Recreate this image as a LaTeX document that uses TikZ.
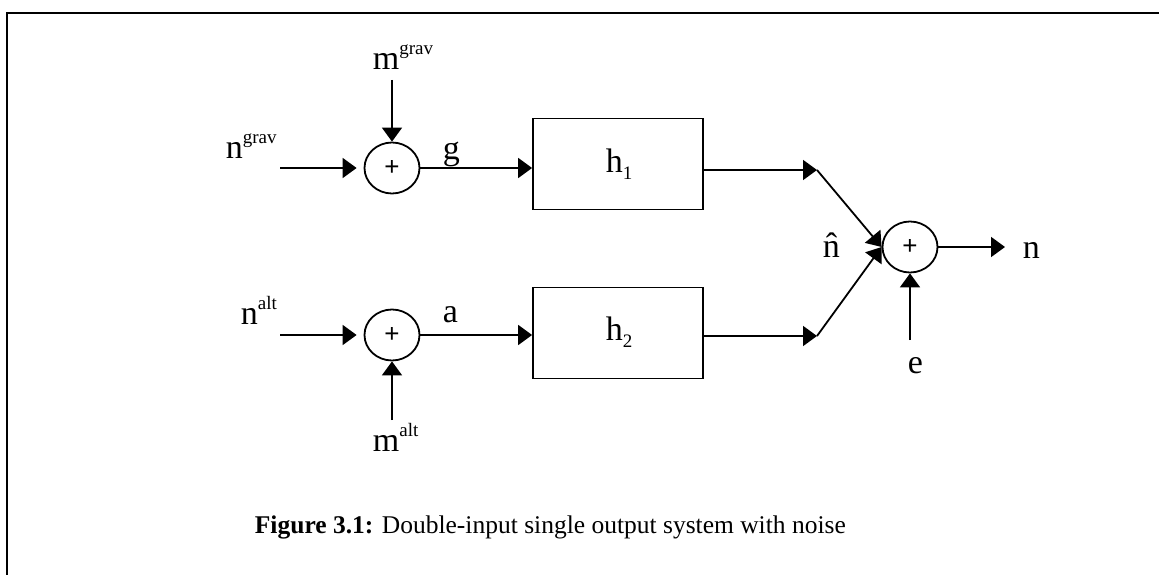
\documentclass[tikz,border=0pt]{standalone}
\usepackage{fontspec}
\setmainfont{Liberation Serif}
\setsansfont{Liberation Sans}
\usetikzlibrary{arrows.meta,shapes.geometric,positioning,calc}
\newcommand{\supr}[1]{\raisebox{15pt}{\fontsize{19}{21}\selectfont #1}}
\newcommand{\subr}[1]{\raisebox{-7pt}{\fontsize{19}{21}\selectfont #1}}

\begin{document}
\begin{tikzpicture}[x=1pt,y=-1pt,line width=1.8pt,>={Triangle[length=14pt,width=20pt]},
sum/.style={draw,ellipse,minimum width=55pt,minimum height=51pt,inner sep=0pt,font=\sffamily\fontsize{26}{30}\selectfont},
block/.style={draw,rectangle,minimum width=170pt,minimum height=91pt,inner sep=0pt},
lbl/.style={inner sep=0pt,anchor=base west,font=\fontsize{34}{40}\selectfont},
gap/.style={shorten >=7pt}]
\useasboundingbox (0,0) rectangle (1159,575);
\draw[line width=2.7pt] (7,590) -- (7,13) -- (1170,13);
% adders and blocks
\node[sum] (s1) at (392,168) {+};
\node[sum] (s2) at (392,335) {+};
\node[sum] (s3) at (910,247) {+};
\node[block] (h1) at (618,164) {};
\node[block] (h2) at (618,333) {};
% labels
\node[lbl] (ngrav) at (225,158) {n\supr{grav}};
\node[lbl] (mgrav) at (372,70) {m\supr{grav}};
\node[lbl] (g) at (442,159) {g};
\node[lbl] (h1txt) at (605,172) {h\subr{1}};
\node[lbl] (nalt) at (240,324) {n\supr{alt}};
\node[lbl] (a) at (442,322) {a};
\node[lbl] (malt) at (372,451) {m\supr{alt}};
\node[lbl] (h2txt) at (605,340) {h\subr{2}};
\node[lbl] (nhat) at (822,257) {\^{n}};
\node[lbl] (nout) at (1022,258) {n};
\node[lbl] (e) at (907,373) {e};
\node[inner sep=0pt,anchor=base west,font=\fontsize{25.5}{30}\selectfont] (cap) at (254,533) {\textbf{Figure 3.1:} Double-input single output system with noise};
% free ends
\coordinate (ngin) at (280,168);
\coordinate (mgin) at (392,80);
\coordinate (nain) at (280,335);
\coordinate (main) at (392,420);
\coordinate (ein) at (910,340);
\coordinate (j1) at (817,170);
\coordinate (j2) at (817,336);
\coordinate (nend) at (1005,247);
\path[->]
(ngin) edge[gap] (s1) (mgin) edge (s1)
(nain) edge[gap] (s2) (main) edge (s2)
(s1) edge (h1.west |- s1) (s2) edge (h2.west |- s2)
(h1.east |- j1) edge (j1) (h2.east |- j2) edge (j2)
(j1) edge (s3.west) (j2) edge (s3.west)
(ein) edge (s3) (s3) edge (nend)
;
\end{tikzpicture}
\end{document}
